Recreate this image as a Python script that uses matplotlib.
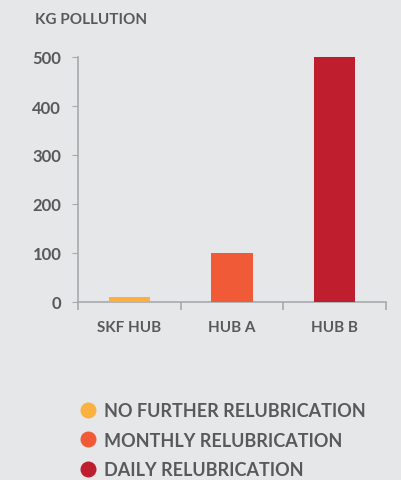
import matplotlib.pyplot as plt
from matplotlib.lines import Line2D

# data
categories = ["SKF HUB", "HUB A", "HUB B"]
values = [10, 100, 500]
colors = ["#fbb040", "#f15a37", "#be1e2d"]
legend_labels = ["NO FURTHER RELUBRICATION", "MONTHLY RELUBRICATION", "DAILY RELUBRICATION"]

bg = "#e6e7e9"
txt = "#58595b"
axcol = "#a7a9ac"

plt.rcParams['font.family'] = ['Lato', 'DejaVu Sans']

fig = plt.figure(figsize=(4.01, 4.81), dpi=100, facecolor=bg)
ax = fig.add_axes([78 / 401, 178 / 481, 308 / 401, 245 / 481])
ax.set_facecolor(bg)

x = range(len(categories))
ax.bar(x, values, width=0.4, color=colors, zorder=3)

ax.set_xlim(-0.5, 2.5)
ax.set_ylim(0, 500)
ax.set_yticks([0, 100, 200, 300, 400, 500])
ax.set_xticks(list(x))
ax.set_xticklabels(categories)
ax.set_xticks([-0.5, 0.5, 1.5, 2.5], minor=True)

for s in ["top", "right"]:
    ax.spines[s].set_visible(False)
for s in ["left", "bottom"]:
    ax.spines[s].set_color(axcol)
    ax.spines[s].set_linewidth(1.2)

ax.tick_params(axis="y", length=4, color=axcol, labelsize=12, labelcolor=txt, pad=8)
ax.tick_params(axis="x", which="major", length=0, labelsize=11, labelcolor=txt, pad=13)
ax.tick_params(axis="x", which="minor", length=6, color=axcol, width=1.2)
for lab in ax.get_xticklabels() + ax.get_yticklabels():
    lab.set_fontweight("bold")

fig.text(35 / 401, 1 - 20 / 481, "KG POLLUTION", color=txt, fontsize=11,
         fontweight="bold", va="center", ha="left")

handles = [Line2D([], [], marker="o", linestyle="none", markersize=10.5,
                  markerfacecolor=c, markeredgecolor=c) for c in colors]
leg = fig.legend(handles, legend_labels, loc="upper left",
                 bbox_to_anchor=(65 / 401, 1 - 387 / 481), frameon=False,
                 handlelength=0.7, handletextpad=0.55, labelspacing=0.69,
                 prop={"size": 13, "weight": "bold"})
for t in leg.get_texts():
    t.set_color(txt)

fig.savefig("out.png", dpi=100, facecolor=bg)
